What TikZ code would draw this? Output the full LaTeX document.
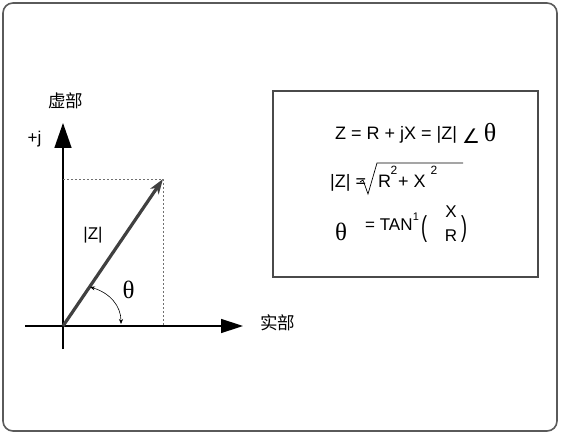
\documentclass[tikz,border=0pt]{standalone}
\usepackage{fontspec}
\setmainfont{Liberation Sans}
\newfontfamily\seriffont{Liberation Serif}
\newfontfamily\cjkfont{Noto Sans CJK SC}
\newfontfamily\symfont{DejaVu Sans}
\usetikzlibrary{arrows.meta}
\definecolor{framegray}{HTML}{5A5A5A}
\definecolor{boxgray}{HTML}{4A4A4A}
\definecolor{vecgray}{HTML}{404040}
\definecolor{dotgray}{HTML}{707070}
\tikzset{
  lbl/.style={inner sep=0pt, font=\fontsize{17}{19}\selectfont},
  cjk/.style={inner sep=0pt, font=\cjkfont\fontsize{17.5}{19}\selectfont},
  theta/.style={inner sep=0pt, font=\seriffont\fontsize{25}{26}\selectfont},
  formula/.style={inner sep=0pt, anchor=base west, font=\fontsize{18}{20}\selectfont},
  sup/.style={inner sep=0pt, font=\fontsize{12}{13}\selectfont},
  axis/.style={line width=1.5pt, black},
  guide/.style={dotgray, line width=0.8pt, dash pattern=on 2pt off 2pt},
}
\begin{document}
\begin{tikzpicture}[x=1pt,y=-1pt]
\useasboundingbox (0,0) rectangle (561,435);
% outer frame
\draw[framegray, line width=1.6pt, rounded corners=10pt] (3,3) rectangle (557,431);
% formula box
\draw[boxgray, line width=1.3pt] (273,91) rectangle (538,277);

% axes
\coordinate (O) at (63,326);
\coordinate (xl) at (25,326);
\coordinate (xr) at (243,326);
\coordinate (yb) at (63,349);
\coordinate (yt) at (63,123);
\coordinate (P) at (163,179);
\coordinate (Px) at (163,326);
\coordinate (Py) at (63,179);
\draw[axis, -{Triangle[length=22pt,width=14pt]}] (xl) -- (xr);
\draw[axis, -{Triangle[length=25pt,width=17pt]}] (yb) -- (yt);
% guides
\draw[guide] (Py) -- (P) -- (Px);
% vector
\draw[vecgray, line width=3.2pt, -{Stealth[length=15pt,width=10pt,inset=4pt]}] (O) -- (P);
% angle arc
\coordinate (a1) at (90,287);
\coordinate (a2) at (121,324);
\draw[black, line width=0.6pt, {Stealth[length=5pt,width=4pt]}-{Stealth[length=5pt,width=4pt]}] (a1) .. controls (110,293) and (121,306) .. (a2);

% labels
\node[cjk] (im) at (65.5,100.5) {虚部};
\node[cjk] (re) at (277.5,323) {实部};
\node[lbl] (pj) at (34.5,139) {+j};
\node[lbl] (mz) at (93,235) {|Z|};
\node[theta] (th) at (128.5,290) {θ};

% formulas
\node[formula] (f1) at (335,140) {Z = R + jX = |Z|};
\node[inner sep=0pt, font=\symfont\fontsize{20}{22}\selectfont] (ang) at (471,136) {∠};
\node[theta, font=\seriffont\fontsize{26}{27}\selectfont] (th1) at (490,133) {θ};

\node[formula] (f2a) at (330,188) {|Z| =};
\draw[black, line width=0.7pt] (360,182) -- (363,180) -- (368,194) -- (377,163) -- (463,163);
\node[formula] (f2b) at (378,188) {R};
\node[sup] (s1) at (394,170) {2};
\node[formula] (f2c) at (398,188) {+ X};
\node[sup] (s2) at (434,170) {2};

\node[theta] (th2) at (341,232) {θ};
\node[formula, font=\fontsize{17}{19}\selectfont] (f3) at (365,231) {= TAN};
\node[sup, font=\fontsize{11}{12}\selectfont] (s3) at (416,217) {1};
\node[inner sep=0pt, font=\fontsize{18}{20}\selectfont] (lp) at (424,229) {\scalebox{1}[1.6]{(}};
\node[inner sep=0pt, font=\fontsize{17}{19}\selectfont] (fx) at (451,212) {X};
\node[inner sep=0pt, font=\fontsize{17}{19}\selectfont] (fr) at (451,236) {R};
\node[inner sep=0pt, font=\fontsize{18}{20}\selectfont] (rp) at (464,229) {\scalebox{1}[1.6]{)}};
\end{tikzpicture}
\end{document}
